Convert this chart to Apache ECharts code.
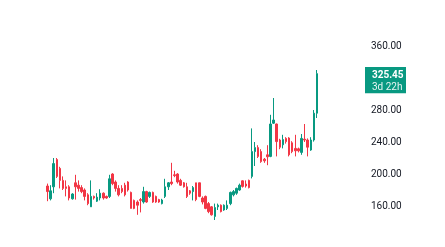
<!DOCTYPE html>
<html><head><meta charset="utf-8">
<script src="https://cdn.jsdelivr.net/npm/echarts@6/dist/echarts.min.js"></script>
<style>html,body{margin:0;padding:0;background:#fff}#c{width:445px;height:247px}</style>
</head><body><div id="c"></div>
<script>
const opens  = [185,169,184,218,207,192,184,184,169,189,186,183,180,174,159,172,166,170,176,172,
                172,200,190,182,182,186,190,177,167,165,168,165,178,172,177,172,168,163,172,184,
                190,199,200,192,189,184,179,178,189,189,170,172,163,159,147,159,161,155,157,
                163,174,176,180,191.5,187.5,192,197,228,233,228,218.5,224,222,263.5,262.5,242.5,236.5,
                244.5,245,239,232,231.5,227,243.5,242.5,230,242.5,276];
const closes = [178,179,213,197,192,182,182,170,175,184,182,178,172,163,172,170,171,176,170,170,
                194,188,182,174,178,174,180,157,157,161,167,178,165,177,165,165,165,167.5,184,189,
                188,198,190,186,184,172,176,183,168,172,165,157,153,149,158,161,153,161,161,
                177,178,182,186,184.5,185,183,228,233,222,215.5,216.5,221.5,262.5,267.5,240.5,233.5,243,
                240.5,224,228,229,229,244.5,242.5,233.5,242.5,276,325.45];
const lows   = [166,167,176,195,182,180,172,167,168,168,178,176,167,161,159,168,165,167,168,169,
                170,186,178,172,176,172,178,157,156,149,152,163,164,170,164,164,164,162,170,180,
                186,196,188,185,183,170,174,167,166,171,162,156,151,148,142.5,155,152,154,155,
                161,172,174,179,183,183,182,194.5,210,220,214,214,211,221,262.5,222,231,232,
                238,222,226,222,227,224,240,222,229,240.5,270];
const highs  = [188,186,220,220,209,197,192,186,176,199,192,186,182,176,192,173,176,181,177,173,
                199,201,192,186,186,189,191,178,168,167,170,184,179,178,178,173,169,169,194,190,
                214,204,201,194,190,189,180,185,189,189,172,173,165,160,163,163,162,162,167,
                178,180,183,188,192,192,193,257,240,236,231,220,236,274,295,263,244,249,
                246,246,241,249,233,250,262.5,244.5,246,280,330];
const yTickLabels = [160, 200, 240, 280, 360];
const lastPriceText = '325.45';
const countdownText = '3d 22h';

const categories = opens.map((_, i) => String(i + 1));
const candles = opens.map((o, i) => [o, closes[i], lows[i], highs[i]]);

const UP = '#089981', DOWN = '#F23645';
const chart = echarts.init(document.getElementById('c'), null, {renderer: 'canvas'});
chart.setOption({
  animation: false,
  grid: {left: 45.95, right: 126.45, top: 14, bottom: 9},
  xAxis: {type: 'category', data: categories, show: false},
  yAxis: {
    type: 'value', position: 'right', min: 120, max: 400, interval: 40, offset: 46,
    splitLine: {show: false}, axisLine: {show: false}, axisTick: {show: false},
    axisLabel: {
      margin: 6.45, color: '#131722', fontSize: 10, fontFamily: 'Roboto',
      formatter: v => yTickLabels.includes(v) ? v.toFixed(2) : ''
    }
  },
  series: [{
    type: 'candlestick', data: candles, barWidth: 2,
    itemStyle: {color: UP, color0: DOWN, borderColor: UP, borderColor0: DOWN, borderWidth: 1}
  }]
});
const py = chart.convertToPixel({yAxisIndex: 0}, closes[closes.length - 1]);
chart.setOption({
  graphic: [{
    type: 'group', x: 365, y: py - 6.6, z: 100,
    children: [
      {type: 'rect', shape: {x: 0, y: 0, width: 41, height: 26.3}, style: {fill: UP}},
      {type: 'text', x: 7, y: 8, style: {text: lastPriceText, fill: '#fff', font: 'bold 10px Roboto', verticalAlign: 'middle', align: 'left'}},
      {type: 'text', x: 7, y: 20.3, style: {text: countdownText, fill: '#fff', font: '10px Roboto', verticalAlign: 'middle', align: 'left', opacity: 0.9}}
    ]
  }]
});
</script></body></html>
